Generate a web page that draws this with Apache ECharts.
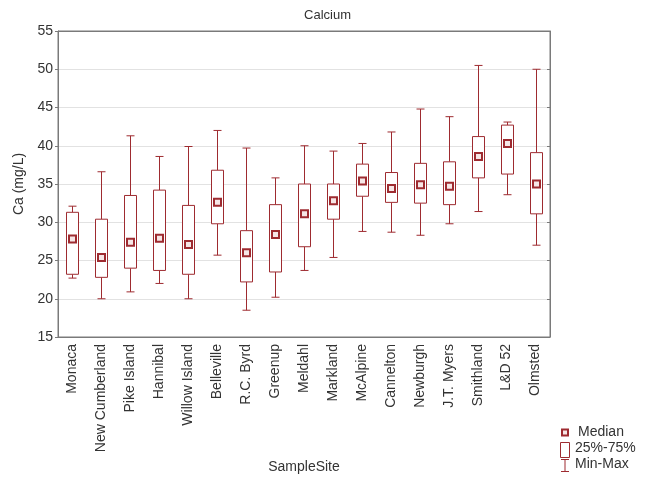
<!DOCTYPE html>
<html>
<head>
<meta charset="utf-8">
<script src="https://cdn.jsdelivr.net/npm/echarts@6/dist/echarts.min.js"></script>
<style>
html,body{margin:0;padding:0;background:#fff;}
#chart{width:655px;height:480px;}
</style>
</head>
<body>
<div id="chart"></div>
<script>
// Calcium concentration per sample site: min, quartiles, median, max (mg/L)
const sites = ["Monaca","New Cumberland","Pike Island","Hannibal","Willow Island","Belleville","R.C. Byrd","Greenup","Meldahl","Markland","McAlpine","Cannelton","Newburgh","J.T. Myers","Smithland","L&D 52","Olmsted"];
const minVals    = [22.7, 20.0, 20.9, 22.0, 20.0, 25.7, 18.5, 20.2, 23.7, 25.4, 28.8, 28.7, 28.3, 29.8, 31.4, 33.6, 27.0];
const q1Vals     = [23.2, 22.8, 24.0, 23.7, 23.2, 29.8, 22.2, 23.5, 26.8, 30.4, 33.4, 32.6, 32.5, 32.3, 35.8, 36.3, 31.1];
const medianVals = [27.8, 25.4, 27.4, 27.9, 27.1, 32.6, 26.0, 28.4, 31.1, 32.8, 35.4, 34.4, 34.9, 34.7, 38.6, 40.3, 35.0];
const q3Vals     = [31.3, 30.4, 33.5, 34.2, 32.2, 36.8, 28.9, 32.3, 35.0, 35.0, 37.6, 36.5, 37.7, 37.9, 41.2, 42.7, 39.1];
const maxVals    = [32.1, 36.6, 41.3, 38.6, 39.9, 42.0, 39.7, 35.8, 40.0, 39.3, 40.3, 41.8, 44.8, 43.8, 50.5, 43.1, 50.0];
const yTicks = {min: 15, max: 55, step: 5};

const RED = '#9e2b30';
const data = sites.map((s, i) => [i, minVals[i], q1Vals[i], medianVals[i], q3Vals[i], maxVals[i]]);

function renderBox(params, api) {
  const i = api.value(0);
  const pMin = api.coord([i, api.value(1)]);
  const pQ1 = api.coord([i, api.value(2)]);
  const pMed = api.coord([i, api.value(3)]);
  const pQ3 = api.coord([i, api.value(4)]);
  const pMax = api.coord([i, api.value(5)]);
  const x = Math.round(pMed[0]) + 0.5;
  const bw = 12, cap = 8, ms = 7;
  const ls = {stroke: RED, lineWidth: 1, fill: null};
  return {
    type: 'group',
    children: [
      {type: 'line', shape: {x1: x, y1: pMax[1], x2: x, y2: pQ3[1]}, style: ls},
      {type: 'line', shape: {x1: x, y1: pQ1[1], x2: x, y2: pMin[1]}, style: ls},
      {type: 'line', shape: {x1: x - cap / 2, y1: pMax[1], x2: x + cap / 2, y2: pMax[1]}, style: ls},
      {type: 'line', shape: {x1: x - cap / 2, y1: pMin[1], x2: x + cap / 2, y2: pMin[1]}, style: ls},
      {type: 'rect', shape: {x: x - bw / 2, y: pQ3[1], width: bw, height: pQ1[1] - pQ3[1]},
        style: {stroke: RED, lineWidth: 1, fill: '#fff'}},
      {type: 'rect', shape: {x: x - ms / 2, y: pMed[1] - ms / 2, width: ms, height: ms},
        style: {stroke: RED, lineWidth: 2, fill: '#f6e6e6'}}
    ]
  };
}

const chart = echarts.init(document.getElementById('chart'), null, {renderer: 'canvas'});
const font = 'Liberation Sans, Arial, sans-serif';
const axisGray = '#7a7a7a';

chart.setOption({
  backgroundColor: '#fff',
  animation: false,
  textStyle: {fontFamily: font},
  title: {
    text: 'Calcium', left: 'center', top: 4,
    textStyle: {fontSize: 13, fontWeight: 'normal', color: '#333', fontFamily: font}
  },
  grid: {left: 58, right: 105, top: 31, bottom: 143, show: true, borderColor: axisGray, borderWidth: 1},
  xAxis: [{
    type: 'category', data: sites, boundaryGap: true,
    name: 'SampleSite', nameLocation: 'middle', nameGap: 121,
    nameTextStyle: {fontSize: 14, color: '#333'},
    axisLine: {lineStyle: {color: axisGray}},
    axisTick: {alignWithLabel: true, length: 4, lineStyle: {color: axisGray}},
    axisLabel: {rotate: 90, fontSize: 14, color: '#333', margin: 7, interval: 0}
  }, {
    type: 'category', data: sites, position: 'top', boundaryGap: true,
    axisLine: {lineStyle: {color: axisGray}},
    axisTick: {alignWithLabel: true, inside: true, length: 3, lineStyle: {color: axisGray}},
    axisLabel: {show: false}
  }],
  yAxis: [{
    type: 'value', min: yTicks.min, max: yTicks.max, interval: yTicks.step,
    name: 'Ca (mg/L)', nameLocation: 'middle', nameGap: 31,
    nameTextStyle: {fontSize: 14, color: '#333'},
    axisLine: {show: true, lineStyle: {color: axisGray}},
    axisTick: {show: true, length: 3, lineStyle: {color: axisGray}},
    axisLabel: {fontSize: 14, color: '#333', margin: 5},
    splitLine: {lineStyle: {color: '#e2e2e2'}}
  }, {
    type: 'value', min: yTicks.min, max: yTicks.max, interval: yTicks.step, position: 'right',
    axisLine: {show: true, lineStyle: {color: axisGray}},
    axisTick: {show: true, inside: true, length: 3, lineStyle: {color: axisGray}},
    axisLabel: {show: false},
    splitLine: {show: false}
  }],
  series: [{
    type: 'custom',
    renderItem: renderBox,
    encode: {x: 0, y: [1, 2, 3, 4, 5]},
    data: data,
    z: 3
  }],
  graphic: [
    {type: 'rect', shape: {x: 562, y: 429.5, width: 6, height: 6}, style: {stroke: RED, lineWidth: 2, fill: '#f6e6e6'}},
    {type: 'text', left: 578, top: 425, style: {text: 'Median', fontSize: 14, fill: '#333', fontFamily: font}},
    {type: 'rect', shape: {x: 560.5, y: 442.5, width: 9, height: 15}, style: {stroke: RED, lineWidth: 1, fill: '#fff'}},
    {type: 'text', left: 575, top: 441, style: {text: '25%-75%', fontSize: 14, fill: '#333', fontFamily: font}},
    {type: 'line', shape: {x1: 565, y1: 459, x2: 565, y2: 472}, style: {stroke: RED, lineWidth: 1}},
    {type: 'line', shape: {x1: 561, y1: 459.5, x2: 569, y2: 459.5}, style: {stroke: RED, lineWidth: 1}},
    {type: 'line', shape: {x1: 561, y1: 471.5, x2: 569, y2: 471.5}, style: {stroke: RED, lineWidth: 1}},
    {type: 'text', left: 575, top: 457, style: {text: 'Min-Max', fontSize: 14, fill: '#333', fontFamily: font}}
  ]
});
</script>
</body>
</html>
